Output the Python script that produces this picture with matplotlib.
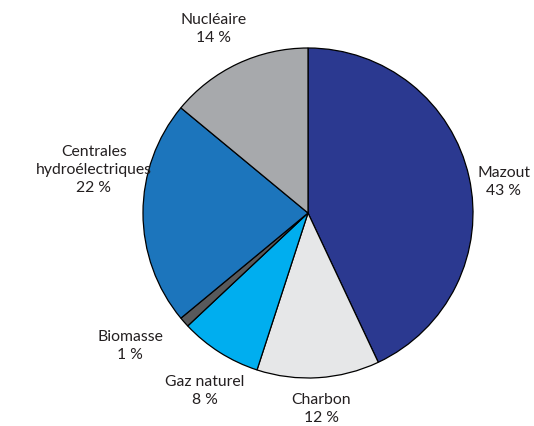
import matplotlib.pyplot as plt

categories = ["Mazout", "Charbon", "Gaz naturel", "Biomasse",
              "Centrales\nhydroélectriques", "Nucléaire"]
shares = [43, 12, 8, 1, 22, 14]
colors = ["#2b3990", "#e6e7e8", "#00aeef", "#58595b", "#1c75bc", "#a7a9ac"]

# label anchor positions in pixels (x, y from top)
label_pos = [(504, 182), (321, 409), (205, 391), (130, 346),
             (94, 170), (214, 29)]

plt.rcParams['font.family'] = ['Lato', 'DejaVu Sans']

fig = plt.figure(figsize=(5.34, 4.26), dpi=100)
ax = fig.add_axes([0, 0, 1, 1])
ax.pie(shares, colors=colors, startangle=90, counterclock=False,
       center=(308, 426 - 213), radius=165,
       wedgeprops=dict(edgecolor="black", linewidth=0.9))
ax.set_xlim(0, 534)
ax.set_ylim(0, 426)
ax.axis("off")

for name, val, (x, y) in zip(categories, shares, label_pos):
    ax.text(x, 426 - y, f"{name}\n{val} %", ha="center", va="center",
            fontsize=11.3, color="#231f20", linespacing=1.35)

fig.savefig("out.png", dpi=100)
